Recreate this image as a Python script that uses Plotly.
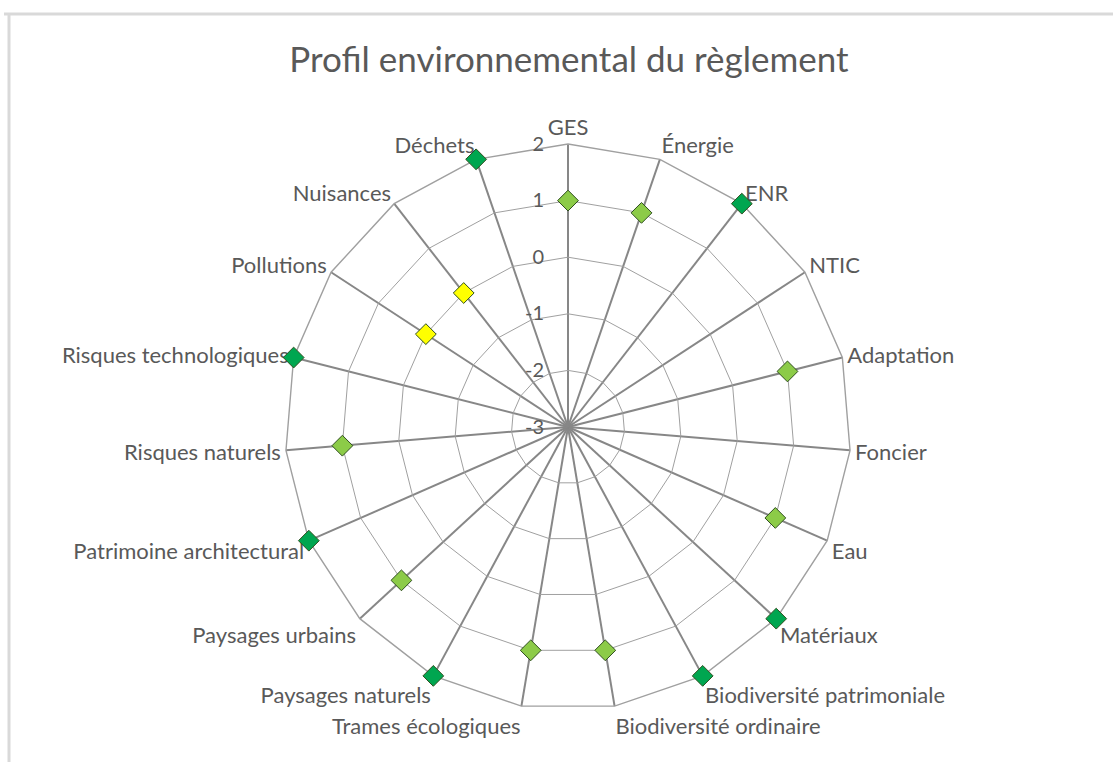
import plotly.graph_objects as go

# Criteria around the radar, clockwise from the top
categories = [
    "GES", "Énergie", "ENR", "NTIC", "Adaptation", "Foncier", "Eau",
    "Matériaux", "Biodiversité patrimoniale", "Biodiversité ordinaire",
    "Trames écologiques", "Paysages naturels", "Paysages urbains",
    "Patrimoine architectural", "Risques naturels",
    "Risques technologiques", "Pollutions", "Nuisances", "Déchets",
]
# Score per criterion (None = not assessed)
scores = [1, 1, 2, None, 1, None, 1, 2, 2, 1, 1, 2, 1, 2, 1, 2, 0, 0, 2]

radial_ticks = [-3, -2, -1, 0, 1, 2]

score_colors = {2: "#00A650", 1: "#8CCB48", 0: "#FFFF00"}

# The polygon grid needs a non-negative radial range, so scores are shifted
# so that the lowest tick sits at the centre; tick labels keep the real scale.
offset = -radial_ticks[0]

pts = [(c, s) for c, s in zip(categories, scores) if s is not None]
pt_theta = [c for c, _ in pts]
pt_r = [s + offset for _, s in pts]
pt_colors = [score_colors[s] for _, s in pts]

text_color = "#595959"
font_family = "Lato, 'Open Sans', sans-serif"
pad = "\u00a0" * 4

fig = go.Figure()
fig.add_trace(go.Scatterpolar(
    r=pt_r,
    theta=pt_theta,
    mode="markers",
    marker=dict(symbol="diamond", size=16, color=pt_colors,
                line=dict(color="#2F4F1F", width=1)),
    showlegend=False,
    hoverinfo="skip",
))

W, H = 1113, 762
cx, cy, R = 568, 427, 283

fig.update_layout(
    width=W, height=H,
    margin=dict(l=0, r=0, t=0, b=0),
    paper_bgcolor="white",
    font=dict(family=font_family, color=text_color),
    title=dict(text="Profil environnemental du règlement",
               x=569 / W, xanchor="center", y=1 - 60 / H, yanchor="middle",
               font=dict(size=35, color=text_color, family=font_family)),
    polar=dict(
        bgcolor="white",
        gridshape="linear",
        domain=dict(x=[(cx - R) / W, (cx + R) / W],
                    y=[(H - cy - R) / H, (H - cy + R) / H]),
        angularaxis=dict(
            type="category",
            direction="clockwise", rotation=90,
            categoryorder="array", categoryarray=categories,
            showline=True, linecolor="#A0A0A0", linewidth=1.4,
            showgrid=True, gridcolor="#878787", gridwidth=2.3,
            ticks="", tickfont=dict(size=22, color=text_color),
            layer="below traces",
        ),
        radialaxis=dict(
            type="linear",
            range=[0, radial_ticks[-1] + offset],
            tickvals=[t + offset for t in radial_ticks],
            ticktext=[f"{t}{pad}" for t in radial_ticks],
            angle=90, tickangle=90, side="counterclockwise",
            showline=False, ticks="",
            showgrid=True, gridcolor="#A0A0A0", gridwidth=1.4,
            tickfont=dict(size=20, color=text_color),
            layer="below traces",
        ),
    ),
    shapes=[
        dict(type="line", xref="paper", yref="paper",
             x0=4 / W, x1=1, y0=1 - 14 / H, y1=1 - 14 / H,
             line=dict(color="#D9D9D9", width=3)),
        dict(type="line", xref="paper", yref="paper",
             x0=9 / W, x1=9 / W, y0=0, y1=1 - 14 / H,
             line=dict(color="#D9D9D9", width=3)),
    ],
)

fig.write_html("out.html")
